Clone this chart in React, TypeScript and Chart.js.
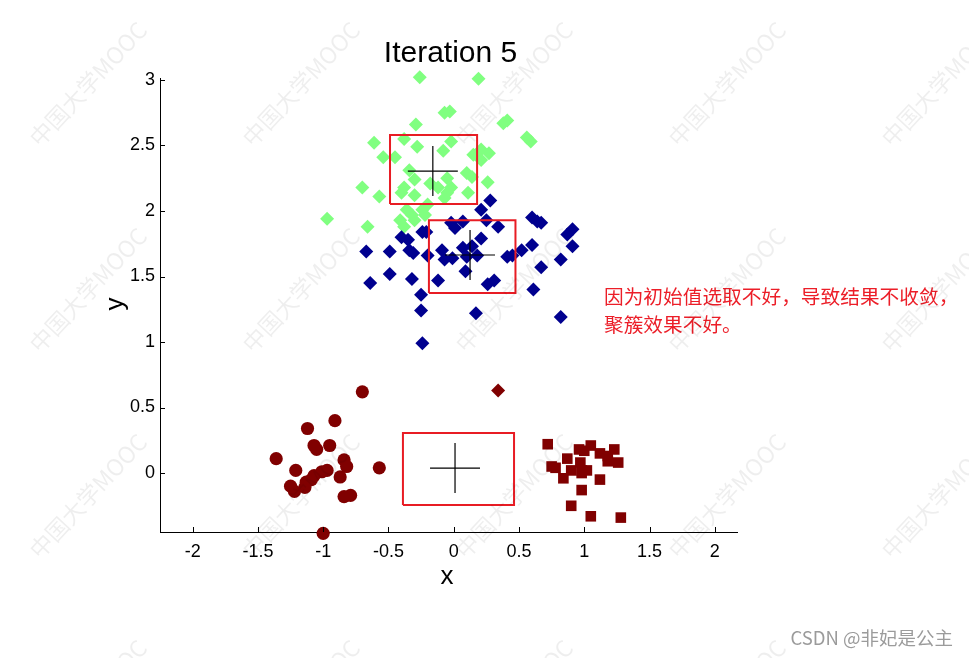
import React, { useEffect, useRef } from "react";
import { Chart, registerables } from "chart.js";

Chart.register(...registerables);

const titleText = "Iteration 5";
const xLabel = "x";
const yLabel = "y";
const xTicks = [-2, -1.5, -1, -0.5, 0, 0.5, 1, 1.5, 2];
const yTicks = [0, 0.5, 1, 1.5, 2, 2.5, 3];
const noteLines = ["因为初始值选取不好，导致结果不收敛，", "聚簇效果不好。"];
const creditText = "CSDN @非妃是公主";
const watermarkText = "中国大学MOOC";

const greenX = [-0.26, 0.19, -0.07, -0.03, -0.29, 0.38, 0.41, -0.61, -0.38, -0.02, 0.56, 0.59, -0.54, -0.45, -0.28, -0.08, 0.15, 0.21, 0.27, 0.21, -0.34, -0.30, 0.10, 0.14, -0.05, -0.70, -0.38, -0.40, -0.18, -0.12, -0.02, -0.05, -0.57, -0.30, 0.11, 0.26, -0.07, -0.97, -0.66, -0.36, -0.32, -0.41, -0.30, -0.38, -0.24, -0.20, -0.22];
const greenY = [3.02, 3.01, 2.75, 2.76, 2.66, 2.67, 2.69, 2.52, 2.55, 2.53, 2.56, 2.53, 2.41, 2.41, 2.49, 2.46, 2.43, 2.47, 2.44, 2.39, 2.31, 2.24, 2.29, 2.26, 2.25, 2.18, 2.18, 2.14, 2.21, 2.18, 2.18, 2.14, 2.11, 2.12, 2.14, 2.22, 2.10, 1.94, 1.88, 2.01, 1.97, 1.93, 1.93, 1.88, 2.01, 2.05, 1.97];

const blueX = [0.28, 0.21, 0.25, -0.02, 0.01, 0.07, 0.34, 0.60, 0.64, 0.67, -0.24, -0.21, -0.40, -0.35, 0.91, 0.87, 0.21, -0.67, -0.49, -0.34, -0.31, -0.09, -0.07, -0.01, 0.07, 0.14, 0.18, 0.10, -0.20, 0.41, 0.45, 0.52, 0.60, 0.91, 0.82, 0.67, -0.64, -0.49, -0.32, -0.12, 0.09, 0.26, 0.31, 0.61, -0.25, -0.25, 0.17, 0.82, -0.24];
const blueY = [2.08, 2.01, 1.93, 1.91, 1.87, 1.92, 1.88, 1.95, 1.92, 1.91, 1.84, 1.84, 1.80, 1.78, 1.86, 1.82, 1.79, 1.69, 1.69, 1.70, 1.68, 1.70, 1.63, 1.64, 1.72, 1.73, 1.66, 1.65, 1.66, 1.65, 1.66, 1.70, 1.74, 1.73, 1.63, 1.57, 1.45, 1.52, 1.48, 1.47, 1.54, 1.44, 1.47, 1.40, 1.36, 1.24, 1.22, 1.19, 0.99];

const redDiamondX = [0.34];
const redDiamondY = [0.63];

const circleX = [-0.70, -0.91, -1.12, -1.07, -1.05, -0.95, -1.36, -0.84, -0.82, -0.57, -1.21, -1.07, -1.01, -0.97, -0.87, -1.13, -1.09, -1.25, -1.22, -1.14, -0.84, -0.79, -1.00];
const circleY = [0.62, 0.40, 0.34, 0.21, 0.18, 0.21, 0.11, 0.10, 0.05, 0.04, 0.02, -0.02, 0.01, 0.02, -0.03, -0.07, -0.05, -0.10, -0.14, -0.11, -0.18, -0.17, -0.46];

const squareX = [0.72, 0.96, 1.00, 1.05, 1.12, 1.18, 1.23, 1.18, 1.26, 0.87, 0.75, 0.78, 0.97, 0.98, 0.90, 1.02, 0.98, 0.84, 1.12, 0.98, 0.90, 1.05, 1.28];
const squareY = [0.22, 0.18, 0.17, 0.21, 0.15, 0.13, 0.18, 0.09, 0.08, 0.11, 0.05, 0.04, 0.08, 0.02, 0.02, 0.02, 0.00, -0.04, -0.05, -0.13, -0.25, -0.33, -0.34];

const centroidX = [-0.16, 0.125, 0.01];
const centroidY = [2.305, 1.664, 0.038];

// highlight boxes: [xmin, xmax, ymin, ymax]
const boxXMin = [-0.488, -0.19, -0.389];
const boxXMax = [0.179, 0.473, 0.462];
const boxYMin = [2.053, 1.374, -0.244];
const boxYMax = [2.58, 1.93, 0.305];

const FONT = "'Liberation Sans', Arial, Helvetica, sans-serif";
const CJK = "'Noto Sans CJK SC', 'Noto Sans', sans-serif";

const pts = (xs: number[], ys: number[]) => xs.map((x, i) => ({ x, y: ys[i] }));

export default function App() {
  const ref = useRef<HTMLCanvasElement | null>(null);

  useEffect(() => {
    if (!ref.current) return;
    const boxSets = boxXMin.map((_, i) => ({
      type: "scatter" as const,
      data: [
        { x: boxXMin[i], y: boxYMin[i] },
        { x: boxXMax[i], y: boxYMin[i] },
        { x: boxXMax[i], y: boxYMax[i] },
        { x: boxXMin[i], y: boxYMax[i] },
        { x: boxXMin[i], y: boxYMin[i] },
      ],
      showLine: true,
      borderColor: "rgb(232,28,36)",
      borderWidth: 2,
      pointRadius: 0,
      fill: false,
      clip: false as any,
    }));

    const overlay = {
      id: "overlay",
      afterDraw(chart: any) {
        const ctx = chart.ctx as CanvasRenderingContext2D;
        const { left, right, bottom } = chart.chartArea;
        const xs = chart.scales.x;
        const ys = chart.scales.y;
        ctx.save();
        // inward ticks
        ctx.strokeStyle = "#000";
        ctx.lineWidth = 1;
        ctx.beginPath();
        xTicks.forEach((v) => {
          const px = Math.round(xs.getPixelForValue(v)) + 0.5;
          ctx.moveTo(px, bottom);
          ctx.lineTo(px, bottom - 5);
        });
        yTicks.forEach((v) => {
          const py = Math.round(ys.getPixelForValue(v)) + 0.5;
          ctx.moveTo(left, py);
          ctx.lineTo(left + 5, py);
        });
        ctx.stroke();

        // title
        ctx.fillStyle = "#000";
        ctx.textAlign = "center";
        ctx.textBaseline = "alphabetic";
        ctx.font = `30px ${FONT}`;
        ctx.fillText(titleText, (left + right) / 2 + 2, 62);

        // axis titles
        ctx.font = `26px ${FONT}`;
        ctx.textBaseline = "middle";
        ctx.fillText(xLabel, 447, 577);
        ctx.save();
        ctx.translate(116, 304);
        ctx.rotate(-Math.PI / 2);
        ctx.fillText(yLabel, 0, 0);
        ctx.restore();

        // note
        ctx.textAlign = "left";
        ctx.textBaseline = "middle";
        ctx.fillStyle = "rgb(236,30,40)";
        ctx.font = `19.7px ${CJK}`;
        ctx.fillText(noteLines[0], 604, 297);
        ctx.fillText(noteLines[1], 604, 325);

        // credit
        ctx.fillStyle = "#9b9b9b";
        ctx.font = `18.5px ${CJK}`;
        ctx.textAlign = "right";
        ctx.fillText(creditText, 953, 638);

        // watermark
        ctx.fillStyle = "rgba(0,0,0,0.065)";
        ctx.font = `23px ${CJK}`;
        ctx.textAlign = "center";
        for (let i = 0; i < 5; i++) {
          for (let j = 0; j < 4; j++) {
            ctx.save();
            ctx.translate(88 + 213 * i, 84 + 206 * j);
            ctx.rotate(-47 * Math.PI / 180);
            ctx.fillText(watermarkText, 0, 0);
            ctx.restore();
          }
        }
        ctx.restore();
      },
    };

    const chart = new Chart(ref.current, {
      type: "scatter",
      data: {
        datasets: [
          ...boxSets,
          {
            data: pts(centroidX, centroidY),
            pointStyle: "cross",
            pointRadius: 25,
            borderColor: "#000",
            backgroundColor: "#000",
            borderWidth: 1.2,
            clip: false as any,
          },
          {
            data: pts(redDiamondX, redDiamondY),
            pointStyle: "rectRot",
            pointRadius: 7,
            backgroundColor: "rgb(128,0,0)",
            borderColor: "rgb(128,0,0)",
            borderWidth: 0,
            clip: false as any,
          },
          {
            data: pts(squareX, squareY),
            pointStyle: "rect",
            pointRadius: 7.5,
            backgroundColor: "rgb(128,0,0)",
            borderColor: "rgb(128,0,0)",
            borderWidth: 0,
            clip: false as any,
          },
          {
            data: pts(circleX, circleY),
            pointStyle: "circle",
            pointRadius: 6.6,
            backgroundColor: "rgb(128,0,0)",
            borderColor: "rgb(128,0,0)",
            borderWidth: 0,
            clip: false as any,
          },
          {
            data: pts(blueX, blueY),
            pointStyle: "rectRot",
            pointRadius: 7,
            backgroundColor: "rgb(0,0,143)",
            borderColor: "rgb(0,0,143)",
            borderWidth: 0,
            clip: false as any,
          },
          {
            data: pts(greenX, greenY),
            pointStyle: "rectRot",
            pointRadius: 7,
            backgroundColor: "rgb(128,255,128)",
            borderColor: "rgb(128,255,128)",
            borderWidth: 0,
            clip: false as any,
          },
        ],
      },
      options: {
        responsive: false,
        animation: false,
        events: [],
        layout: { padding: { left: 0, top: 78, right: 232, bottom: 0 } },
        plugins: {
          legend: { display: false },
          tooltip: { enabled: false },
          title: { display: false },
        },
        scales: {
          x: {
            type: "linear",
            min: -2.25,
            max: 2.17,
            afterBuildTicks: (s: any) => {
              s.ticks = xTicks.map((v) => ({ value: v }));
            },
            afterFit: (s: any) => {
              s.height = 126;
            },
            grid: { display: false, drawTicks: false },
            border: { display: true, color: "#000", width: 1 },
            ticks: {
              color: "#000",
              font: { family: FONT, size: 18 },
              padding: 9,
              maxRotation: 0,
              autoSkip: false,
              callback: (v: any) => String(v),
            },
          },
          y: {
            type: "linear",
            min: -0.45,
            max: 3.015,
            afterBuildTicks: (s: any) => {
              s.ticks = yTicks.map((v) => ({ value: v }));
            },
            afterFit: (s: any) => {
              s.width = 160;
            },
            grid: { display: false, drawTicks: false },
            border: { display: true, color: "#000", width: 1 },
            ticks: {
              color: "#000",
              font: { family: FONT, size: 18 },
              padding: 5,
              autoSkip: false,
              callback: (v: any) => String(v),
            },
          },
        },
      },
      plugins: [overlay],
    } as any);
    return () => chart.destroy();
  }, []);

  return (
    <div style={{ position: "absolute", left: 0, top: 0, width: 969, height: 658, background: "#fff" }}>
      <canvas ref={ref} width={969} height={658} style={{ width: 969, height: 658, display: "block" }} />
    </div>
  );
}
